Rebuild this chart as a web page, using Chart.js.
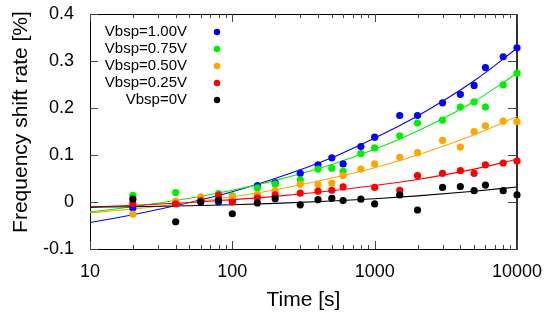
<!DOCTYPE html>
<html><head><meta charset="utf-8">
<script src="https://cdn.jsdelivr.net/npm/chart.js@4/dist/chart.umd.min.js"></script>
<style>html,body{margin:0;padding:0;background:#fff}</style>
</head><body>
<canvas id="c" width="547" height="323" style="width:547px;height:323px;display:block"></canvas>
<script>
// ---- data ----
const times = [20,40,60,80,100,150,200,300,400,500,600,800,1000,1500,2000,3000,4000,5000,6000,8000,10000];
const seriesLabels = ['Vbsp=1.00V','Vbsp=0.75V','Vbsp=0.50V','Vbsp=0.25V','Vbsp=0V'];
const v100 = [-0.013,-0.003,0.001,0.000,0.003,0.035,0.041,0.061,0.079,0.094,0.081,0.118,0.138,0.184,0.184,0.211,0.229,0.248,0.286,0.309,0.328];
const v075 = [0.014,0.020,0.007,0.018,0.013,0.030,0.038,0.047,0.070,0.072,0.065,0.103,0.115,0.141,0.168,0.174,0.202,0.213,0.202,0.249,0.274];
const v050 = [-0.026,0.002,0.011,0.008,0.011,0.016,0.024,0.038,0.037,0.040,0.056,0.070,0.081,0.095,0.105,0.131,0.117,0.150,0.162,0.172,0.171];
const v025 = [-0.003,-0.004,0.003,0.014,0.000,0.009,0.015,0.019,0.023,0.025,0.032,null,0.031,0.025,0.056,0.061,0.067,0.061,0.079,0.083,0.087];
const v000 = [0.006,-0.042,0.000,0.004,-0.025,-0.002,0.007,-0.006,0.005,0.008,0.003,0.006,-0.004,0.015,-0.017,0.031,0.033,0.024,0.036,0.024,0.015];
// fitted curves
const fitTimes = [10,20,50,100,200,500,1000,2000,5000,10000];
const fit100 = [-0.044,-0.027,-0.001,0.022,0.050,0.094,0.136,0.183,0.258,0.327];
const fit075 = [-0.021,-0.010,0.008,0.025,0.046,0.080,0.112,0.151,0.214,0.274];
const fit050 = [-0.023,-0.015,-0.001,0.011,0.026,0.051,0.073,0.100,0.143,0.182];
const fit025 = [-0.011,-0.007,-0.001,0.005,0.012,0.024,0.035,0.048,0.070,0.091];
const fit000 = [-0.011,-0.010,-0.008,-0.006,-0.003,0.002,0.007,0.013,0.023,0.032];
const xTicks = [10,100,1000,10000];
const xMinor = [20,30,40,50,60,70,80,90,200,300,400,500,600,700,800,900,2000,3000,4000,5000,6000,7000,8000,9000];
const yTicks = [-0.1,0,0.1,0.2,0.3,0.4];

const colors = ['#0000ff','#00ee00','#ffa500','#ff0000','#000000'];
const FONT = '"Liberation Sans", Arial, Helvetica, sans-serif';
const pts = (ys, xs) => xs.map((x,i)=>({x, y: ys[i]})).filter(p=>p.y!==null);
const values = [v100,v075,v050,v025,v000];
const fits = [fit100,fit075,fit050,fit025,fit000];

const datasets = [];
for (let i=4;i>=0;i--) {
  datasets.push({type:'scatter', label: seriesLabels[i], data: pts(values[i], times),
    backgroundColor: colors[i], borderColor: colors[i], pointRadius: 3.6, pointBorderWidth: 0,
    showLine:false, clip:false, order: 0});
}
for (let i=4;i>=0;i--) {
  datasets.push({type:'line', label: seriesLabels[i]+' fit', data: pts(fits[i], fitTimes),
    borderColor: colors[i], borderWidth: 1.1, pointRadius: 0, fill:false,
    cubicInterpolationMode:'monotone', order: 1});
}

const framePlugin = {
  id:'frame',
  beforeDatasetsDraw(chart){
    const {ctx, chartArea:a, scales:{x,y}} = chart;
    ctx.save();
    ctx.strokeStyle = '#000'; ctx.lineWidth = 1;
    ctx.beginPath();
    ctx.moveTo(a.left+0.5, a.top+0.5); ctx.lineTo(a.right, a.top+0.5);
    ctx.moveTo(a.left+0.5, a.top); ctx.lineTo(a.left+0.5, a.bottom+0.5);
    ctx.lineTo(a.right, a.bottom+0.5);
    ctx.stroke();
    ctx.strokeStyle = '#333'; ctx.lineWidth = 2;
    ctx.beginPath(); ctx.moveTo(a.right, a.top); ctx.lineTo(a.right, a.bottom+1); ctx.stroke();
    ctx.strokeStyle = '#444'; ctx.lineWidth = 1;
    ctx.beginPath();
    xTicks.forEach(v=>{ const px = Math.round(x.getPixelForValue(v))+0.5;
      ctx.moveTo(px, a.bottom); ctx.lineTo(px, a.bottom-8);
      ctx.moveTo(px, a.top); ctx.lineTo(px, a.top+8); });
    xMinor.forEach(v=>{ const px = Math.round(x.getPixelForValue(v))+0.5;
      ctx.moveTo(px, a.bottom); ctx.lineTo(px, a.bottom-4);
      ctx.moveTo(px, a.top); ctx.lineTo(px, a.top+4); });
    yTicks.forEach(v=>{ const py = Math.round(y.getPixelForValue(v))+0.5;
      ctx.moveTo(a.left, py); ctx.lineTo(a.left+8, py);
      ctx.moveTo(a.right, py); ctx.lineTo(a.right-9, py); });
    ctx.stroke();
    ctx.restore();
  },
  afterDraw(chart){
    const {ctx} = chart;
    ctx.save();
    ctx.fillStyle = '#000';
    ctx.font = '21px ' + FONT;
    ctx.translate(21, 122);
    ctx.rotate(-Math.PI/2);
    ctx.textAlign = 'center'; ctx.textBaseline = 'middle';
    ctx.fillText('Frequency shift rate [%]', 0, 0);
    ctx.restore();
    ctx.save();
    ctx.font = '15px ' + FONT;
    ctx.textAlign = 'right'; ctx.textBaseline = 'middle';
    seriesLabels.forEach((t,i)=>{
      const yy = 32 + i*17;
      ctx.fillStyle = '#000';
      ctx.fillText(t, 187, yy);
      ctx.fillStyle = colors[i];
      ctx.beginPath(); ctx.arc(217, yy, 3.2, 0, Math.PI*2); ctx.fill();
    });
    ctx.restore();
  }
};

new Chart(document.getElementById('c'), {
  data: {datasets},
  options: {
    responsive:false, animation:false, devicePixelRatio:1,
    layout:{padding:{top:14, right:30, bottom:0, left:0}},
    plugins:{legend:{display:false}, tooltip:{enabled:false}},
    scales:{
      x:{type:'logarithmic', min:10, max:10000, position:'bottom',
        afterBuildTicks: s => { s.ticks = xTicks.map(v=>({value:v})); },
        afterFit: s => { s.height = 74; s.paddingLeft = 0; s.paddingRight = 0; },
        grid:{display:false, drawTicks:false}, border:{display:false},
        ticks:{autoSkip:false, maxRotation:0, padding:12, color:'#000', font:{family:FONT, size:18},
          callback: v => String(v)},
        title:{display:true, text:'Time [s]', color:'#000', font:{family:FONT, size:21}, padding:{top:0,bottom:10}}
      },
      y:{type:'linear', min:-0.1, max:0.4,
        afterBuildTicks: s => { s.ticks = yTicks.map(v=>({value:v})); },
        afterFit: s => { s.width = 90; s.paddingTop = 0; s.paddingBottom = 0; },
        grid:{display:false, drawTicks:false}, border:{display:false},
        ticks:{padding:16, color:'#000', font:{family:FONT, size:18},
          callback: v => String(Math.round(v*10)/10)}
      }
    }
  },
  plugins:[framePlugin]
});
</script>
</body></html>
